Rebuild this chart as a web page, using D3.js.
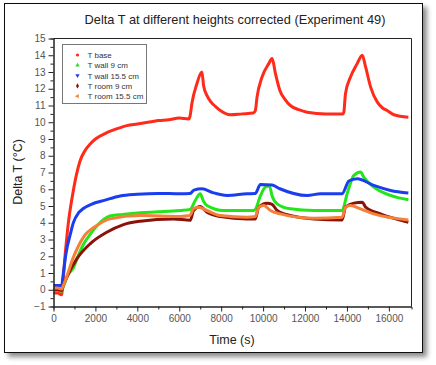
<!DOCTYPE html>
<html>
<head>
<meta charset="utf-8">
<script src="https://cdn.jsdelivr.net/npm/d3@7/dist/d3.min.js"></script>
<style>
  body { margin: 0; background: #fff; }
  svg { font-family: "Liberation Sans", Arial, sans-serif; }
</style>
</head>
<body>
<svg id="chart"></svg>
<script>
// ---- data: [time (s), delta T (°C)] ----
const tBase = [[0,-0.2],[200,-0.2],[390,-0.3],[420,0],[550,2.0],[700,3.9],[930,5.8],[1100,6.9],[1270,7.7],[1500,8.3],[1750,8.7],
  [2000,9.0],[2500,9.35],[3000,9.6],[3500,9.8],[4000,9.9],[4500,10.0],[5000,10.1],[5500,10.15],[6000,10.25],[6450,10.2],
  [6520,10.4],[6600,11.1],[6840,12.3],[7080,13.0],[7160,12.2],[7320,11.6],[7520,11.2],[7720,10.95],[7960,10.7],[8430,10.45],[9000,10.5],
  [9540,10.55],[9630,10.7],[9710,11.5],[9950,12.7],[10270,13.5],[10430,13.8],[10590,12.9],[10800,11.9],[11050,11.35],[11300,11.0],[11700,10.75],
  [12100,10.6],[13000,10.5],[13800,10.5],[13850,10.6],[13930,11.7],[14170,12.7],[14490,13.5],[14730,14.0],[14890,13.3],[15130,12.1],
  [15450,11.2],[15700,10.85],[15920,10.7],[16240,10.45],[16930,10.3]];
const tWall9 = [[0,0],[200,0],[390,-0.1],[450,0.1],[700,0.9],[946,1.3],[1200,2.1],[1424,2.7],[1750,3.3],[2065,3.8],[2700,4.4],
  [3300,4.5],[4134,4.6],[5000,4.65],[6045,4.73],[6520,4.8],[6750,5.3],[7000,5.73],[7150,5.3],[7320,5.03],[8120,4.73],[9550,4.73],
  [9630,4.8],[9870,5.6],[10110,6.13],[10300,6.2],[10430,5.6],[10670,5.13],[11300,4.83],[12420,4.73],[13770,4.73],[14010,5.73],
  [14330,6.83],[14650,7.03],[14800,6.73],[15280,6.13],[16080,5.63],[16930,5.37]];
const tWall155 = [[0,0.25],[200,0.25],[390,0.25],[450,0.8],[600,2.2],[800,3.3],[946,4.0],[1200,4.6],[1424,4.85],[1800,5.1],
  [2460,5.35],[3180,5.6],[4000,5.7],[5000,5.75],[6045,5.73],[6520,5.75],[6700,5.95],[7080,6.03],[7600,5.8],[8280,5.63],[9230,5.73],
  [9630,5.75],[9870,6.29],[10430,6.25],[10800,6.03],[12100,5.63],[12740,5.73],[13770,5.73],[14090,6.49],[14490,6.63],[15280,6.23],
  [16080,5.93],[16930,5.77]];
const tRoom9 = [[0,0.0],[200,0.0],[390,-0.05],[450,0.2],[630,0.74],[1110,1.84],[1745,2.74],[2540,3.43],[3340,3.89],[4134,4.09],
  [5725,4.23],[6525,4.15],[6680,4.73],[7000,4.97],[7320,4.63],[7960,4.37],[9230,4.23],[9630,4.23],[9790,4.93],[10190,5.17],
  [10430,5.1],[10670,4.73],[11300,4.43],[12420,4.23],[13770,4.17],[13930,4.93],[14330,5.17],[14730,5.23],[14890,4.93],[15600,4.53],
  [16930,4.03]];
const tRoom155 = [[0,0.1],[200,0.1],[390,0.05],[450,0.2],[550,0.5],[946,1.93],[1424,3.13],[2065,3.83],[2700,4.23],[4134,4.43],
  [6045,4.38],[6500,4.43],[6680,4.83],[6920,4.93],[7320,4.73],[7960,4.43],[9230,4.33],[9630,4.37],[9790,4.93],[10030,5.03],
  [10350,4.73],[10820,4.53],[12420,4.27],[13770,4.33],[13930,4.93],[14170,5.03],[14650,4.83],[15280,4.53],[16930,4.17]];

const seriesNames = ['T base', 'T wall 9 cm', 'T wall 15.5 cm', 'T room 9 cm', 'T room 15.5 cm'];
const seriesColors = ['#ff2a1a', '#22e61a', '#1a3df0', '#8b1208', '#f4803a'];
const seriesData = [tBase, tWall9, tWall155, tRoom9, tRoom155];
const drawOrder = [0, 1, 2, 3, 4];

const yTicks = d3.range(-1, 16, 1);
const xTicks = [0, 2000, 4000, 6000, 8000, 10000, 12000, 14000, 16000];

const W = 436, H = 365;
const plot = { left: 53.5, right: 411.5, top: 38.5, bottom: 306.5 };

const svg = d3.select('#chart').attr('width', W).attr('height', H);

// outer frame with drop shadow
const defs = svg.append('defs');
const f = defs.append('filter').attr('id', 'shadow').attr('x', '-5%').attr('y', '-5%').attr('width', '115%').attr('height', '115%');
f.append('feDropShadow').attr('dx', 4).attr('dy', 4).attr('stdDeviation', 2.5).attr('flood-color', '#000').attr('flood-opacity', 0.45);

svg.append('rect')
  .attr('x', 4.5).attr('y', 3.5).attr('width', 418).attr('height', 349)
  .attr('fill', '#fff').attr('stroke', '#111').attr('stroke-width', 1)
  .attr('filter', 'url(#shadow)');

const x = d3.scaleLinear().domain([0, 17080]).range([plot.left, plot.right]);
const y = d3.scaleLinear().domain([-1, 15]).range([plot.bottom, plot.top]);

// frame top + right
svg.append('path')
  .attr('d', `M${plot.left},${plot.top}H${plot.right}V${plot.bottom}`)
  .attr('fill', 'none').attr('stroke', '#222').attr('stroke-width', 1);

// series
const line = d3.line().x(d => x(d[0])).y(d => y(d[1])).curve(d3.curveMonotoneX);
const lines = svg.append('g').attr('class', 'series');
drawOrder.forEach(i => {
  lines.append('path')
    .datum(seriesData[i])
    .attr('fill', 'none')
    .attr('stroke', seriesColors[i])
    .attr('stroke-width', 3)
    .attr('stroke-linejoin', 'round')
    .attr('d', line);
});

// axes
const axisStyle = g => {
  g.select('.domain').attr('stroke', '#222');
  g.selectAll('.tick line').attr('stroke', '#222');
  g.selectAll('.tick text').attr('fill', '#555').attr('font-size', '10px');
};

svg.append('g') // minor y
  .attr('transform', `translate(${plot.left},0)`)
  .call(d3.axisLeft(y).tickValues(d3.range(-0.5, 15, 1)).tickSize(3).tickFormat(''))
  .call(axisStyle);
svg.append('g') // major y
  .attr('transform', `translate(${plot.left},0)`)
  .call(d3.axisLeft(y).tickValues(yTicks).tickSize(5).tickPadding(3).tickSizeOuter(0).tickFormat(d3.format('d')))
  .call(axisStyle);

svg.append('g') // minor x
  .attr('transform', `translate(0,${plot.bottom})`)
  .call(d3.axisBottom(x).tickValues(d3.range(1000, 17000, 2000)).tickSize(3).tickFormat(''))
  .call(axisStyle);
svg.append('g') // major x
  .attr('transform', `translate(0,${plot.bottom})`)
  .call(d3.axisBottom(x).tickValues(xTicks).tickSize(5).tickPadding(3).tickSizeOuter(0).tickFormat(d3.format('d')))
  .call(axisStyle);

// titles
svg.append('text')
  .attr('x', 235).attr('y', 24)
  .attr('text-anchor', 'middle').attr('font-size', '12.8px').attr('fill', '#222')
  .text('Delta T at different heights corrected (Experiment 49)');

svg.append('text')
  .attr('x', 232).attr('y', 344)
  .attr('text-anchor', 'middle').attr('font-size', '12.5px').attr('fill', '#222')
  .text('Time (s)');

svg.append('text')
  .attr('transform', 'translate(22,172) rotate(-90)')
  .attr('text-anchor', 'middle').attr('font-size', '12.5px').attr('fill', '#222')
  .text('Delta T (°C)');

// legend
const legend = svg.append('g').attr('transform', 'translate(62.5,44.5)');
legend.append('rect')
  .attr('width', 84).attr('height', 59)
  .attr('fill', '#fff').attr('stroke', '#777').attr('stroke-width', 1);

const symbols = [d3.symbolCircle, d3.symbolTriangle, d3.symbolTriangle, d3.symbolDiamond, d3.symbolTriangle];
const rotations = [0, 0, 180, 0, -90];
seriesNames.forEach((name, i) => {
  const row = legend.append('g').attr('transform', `translate(0,${10.5 + i * 10.3})`);
  row.append('path')
    .attr('transform', `translate(15,0) rotate(${rotations[i]})`)
    .attr('d', d3.symbol().type(symbols[i]).size(8))
    .attr('fill', seriesColors[i]);
  row.append('text')
    .attr('x', 25).attr('y', 3)
    .attr('font-size', '8px').attr('fill', '#333')
    .text(name);
});
</script>
</body>
</html>
